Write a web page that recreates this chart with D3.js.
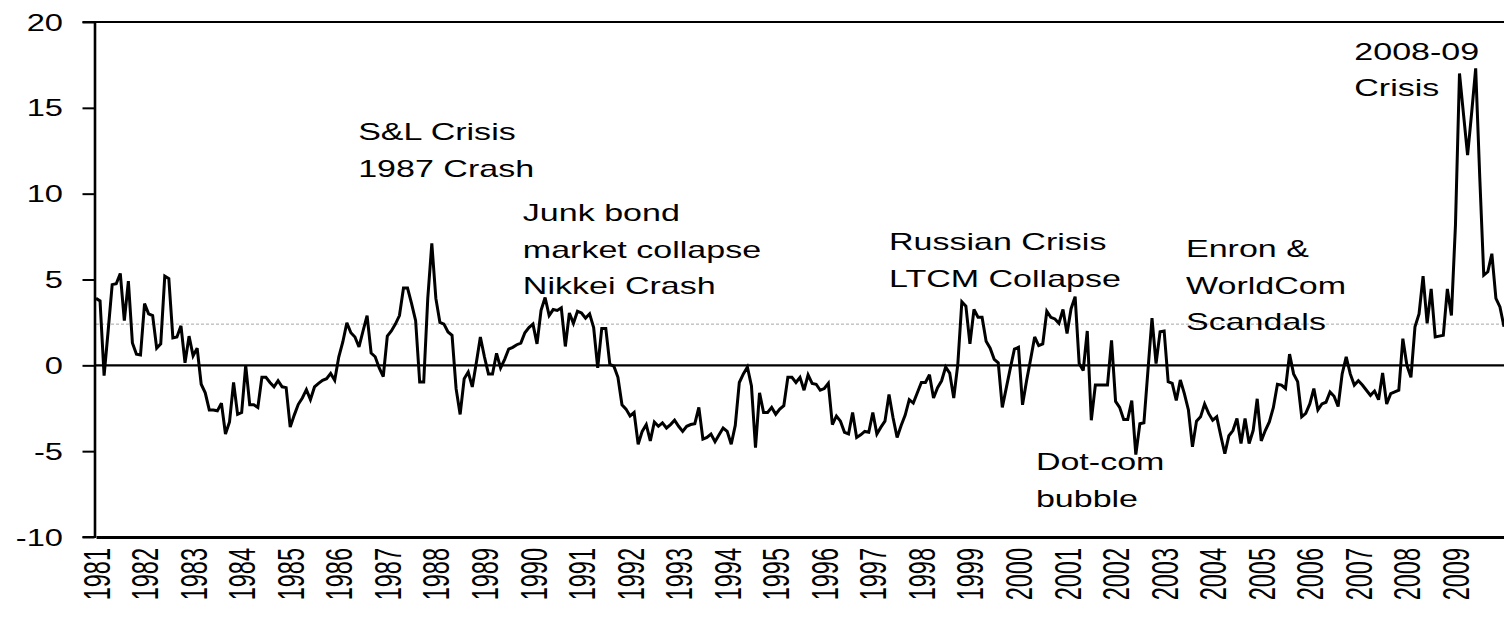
<!DOCTYPE html>
<html>
<head>
<meta charset="utf-8">
<script src="https://cdn.jsdelivr.net/npm/d3@7"></script>
<style>
  html, body { margin: 0; padding: 0; background: #fff; }
  svg { display: block; }
  text { font-family: "Liberation Sans", Arial, sans-serif; fill: #000; }
</style>
</head>
<body>
<div id="chart"></div>
<script>
// year labels, one per January
const yearLabels = ["1981", "1982", "1983", "1984", "1985", "1986", "1987", "1988", "1989", "1990",
  "1991", "1992", "1993", "1994", "1995", "1996", "1997", "1998", "1999", "2000",
  "2001", "2002", "2003", "2004", "2005", "2006", "2007", "2008", "2009"];

const yTicks = [-10, -5, 0, 5, 10, 15, 20];
const refLevel = 2.4;

// monthly index, Jan 1981 .. Jan 2010 (one row per year)
const monthly = [
  3.9, 3.75, -0.6, 2.0, 4.7, 4.75, 5.35, 2.6, 4.9, 1.3, 0.65, 0.6,
  3.6, 3.0, 2.9, 1.0, 1.25, 5.2, 5.05, 1.6, 1.65, 2.3, 0.15, 1.7,
  0.55, 1.0, -1.1, -1.6, -2.6, -2.6, -2.65, -2.2, -4.0, -3.3, -1.0, -2.85,
  -2.75, 0.0, -2.3, -2.3, -2.45, -0.7, -0.7, -1.0, -1.25, -0.9, -1.25, -1.3,
  -3.6, -2.9, -2.27, -1.9, -1.42, -2.0, -1.26, -1.05, -0.87, -0.78, -0.47, -0.87,
  0.48, 1.36, 2.47, 1.9, 1.65, 1.07, 2.0, 2.9, 0.72, 0.5, -0.15, -0.65,
  1.7, 2.0, 2.4, 2.9, 4.5, 4.5, 3.6, 2.6, -0.97, -0.97, 3.9, 7.1,
  3.9, 2.5, 2.4, 1.94, 1.75, -1.36, -2.86, -0.78, -0.39, -1.26, 0.15, 1.65,
  0.5, -0.5, -0.5, 0.7, -0.15, 0.35, 0.95, 1.05, 1.2, 1.3, 1.9, 2.2,
  2.4, 1.25, 3.2, 3.95, 2.9, 3.25, 3.2, 3.35, 1.1, 3.05, 2.45, 3.15,
  3.05, 2.75, 3.0, 2.2, -0.15, 2.15, 2.15, 0.05, -0.05, -0.7, -2.3, -2.55,
  -2.95, -2.75, -4.6, -3.85, -3.45, -4.4, -3.3, -3.55, -3.35, -3.65, -3.45, -3.2,
  -3.55, -3.85, -3.55, -3.45, -3.4, -2.45, -4.3, -4.2, -4.0, -4.45, -4.05, -3.65,
  -3.85, -4.6, -3.5, -1.0, -0.5, -0.1, -1.2, -4.8, -1.6, -2.75, -2.75, -2.45,
  -2.85, -2.55, -2.35, -0.7, -0.7, -1.0, -0.7, -1.45, -0.55, -1.05, -1.1, -1.45,
  -1.35, -1.05, -3.45, -2.95, -3.25, -3.9, -4.0, -2.75, -4.2, -4.05, -3.85, -3.9,
  -2.75, -4.0, -3.6, -3.25, -1.7, -3.05, -4.2, -3.5, -2.9, -2.0, -2.2, -1.6,
  -1.0, -1.0, -0.55, -1.9, -1.3, -0.9, -0.1, -0.45, -1.9, 0.05, 3.7, 3.45,
  1.25, 3.25, 2.8, 2.8, 1.4, 1.0, 0.35, 0.15, -2.45, -1.3, -0.15, 0.95,
  1.05, -2.3, -0.9, 0.35, 1.65, 1.15, 1.25, 3.15, 2.8, 2.7, 2.45, 3.25,
  1.85, 3.3, 4.0, 0.1, -0.3, 2.0, -3.2, -1.15, -1.15, -1.15, -1.15, 1.45,
  -2.1, -2.45, -3.15, -3.15, -2.05, -5.2, -3.4, -3.35, -0.3, 2.75, 0.1, 1.95,
  2.0, -0.95, -1.05, -2.05, -0.85, -1.65, -2.6, -4.75, -3.25, -3.0, -2.25, -2.8,
  -3.2, -3.0, -4.1, -5.15, -4.1, -3.8, -3.1, -4.55, -3.1, -4.55, -3.8, -1.95,
  -4.4, -3.8, -3.3, -2.45, -1.1, -1.15, -1.35, 0.65, -0.5, -0.95, -3.0, -2.8,
  -2.25, -1.35, -2.6, -2.25, -2.15, -1.55, -1.8, -2.4, -0.5, 0.5, -0.5, -1.15,
  -0.9, -1.15, -1.45, -1.75, -1.5, -2.0, -0.45, -2.25, -1.65, -1.55, -1.45, 1.55,
  0.0, -0.7, 2.25, 3.0, 5.2, 2.45, 4.45, 1.65, 1.7, 1.75, 4.45, 2.9,
  8.15, 17.0, 14.6, 12.25, 14.7, 17.3, 11.0, 5.25, 5.45, 6.5, 3.9, 3.4,
  2.25
];

// event notes, anchored in data units (month index, value of first baseline)
const notes = [
  { lines: ["S&L Crisis", "1987 Crash"], month: 64.8, value: 13.1 },
  { lines: ["Junk bond", "market collapse", "Nikkei Crash"], month: 105.5, value: 8.4 },
  { lines: ["Russian Crisis", "LTCM Collapse"], month: 196, value: 6.7 },
  { lines: ["Dot-com", "bubble"], month: 232.3, value: -6.1 },
  { lines: ["Enron &", "WorldCom", "Scandals"], month: 269.4, value: 6.3 },
  { lines: ["2008-09", "Crisis"], month: 311, value: 17.8 }
];

const width = 1504;
const height = 620;
const plotLeft = 96;
const axisX = 94.5;

const svg = d3.select("#chart")
  .append("svg")
  .attr("width", width)
  .attr("height", height);

const x = d3.scaleLinear()
  .domain([0, monthly.length - 1])
  .range([plotLeft, width]);

const y = d3.scaleLinear()
  .domain([-10, 20])
  .range([537, 22]);

// top border of plot area
svg.append("line")
  .attr("x1", axisX - 12).attr("x2", width)
  .attr("y1", y(20)).attr("y2", y(20))
  .attr("stroke", "#000").attr("stroke-width", 2);

// reference level (dashed)
svg.append("line")
  .attr("x1", plotLeft).attr("x2", width)
  .attr("y1", y(refLevel)).attr("y2", y(refLevel))
  .attr("stroke", "#a6a6a6").attr("stroke-width", 1)
  .attr("stroke-dasharray", "3 2");

// zero line
svg.append("line")
  .attr("x1", axisX).attr("x2", width)
  .attr("y1", y(0)).attr("y2", y(0))
  .attr("stroke", "#000").attr("stroke-width", 2.2);

// the series
const line = d3.line()
  .x((d, i) => x(i))
  .y((d) => y(d));

svg.append("path")
  .datum(monthly)
  .attr("fill", "none")
  .attr("stroke", "#000")
  .attr("stroke-width", 3)
  .attr("stroke-linejoin", "miter")
  .attr("stroke-miterlimit", 3)
  .attr("d", line);

// y axis
const yAxis = d3.axisLeft(y).tickValues(yTicks).tickSize(12).tickSizeOuter(0).tickFormat("");
svg.append("g")
  .attr("transform", `translate(${axisX},0)`)
  .call(yAxis)
  .call((g) => g.select(".domain").attr("stroke", "#000").attr("stroke-width", 2.6))
  .call((g) => g.selectAll(".tick line").attr("stroke", "#000").attr("stroke-width", 2));

svg.append("g")
  .selectAll("text")
  .data(yTicks)
  .enter()
  .append("text")
  .attr("transform", (d) => `translate(63,${y(d)}) scale(1.36,1)`)
  .attr("text-anchor", "end")
  .attr("dy", "0.36em")
  .style("font-size", "24px")
  .text((d) => d);

// x axis line at the bottom of the plot
const xAxis = d3.axisBottom(x).tickValues([]).tickSizeOuter(0);
svg.append("g")
  .attr("transform", `translate(0,${y(-10)})`)
  .call(xAxis)
  .call((g) => g.select(".domain").attr("stroke", "#000").attr("stroke-width", 3));

svg.append("line")
  .attr("x1", axisX - 12).attr("x2", plotLeft)
  .attr("y1", y(-10)).attr("y2", y(-10))
  .attr("stroke", "#000").attr("stroke-width", 2);

// rotated year labels
svg.append("g")
  .selectAll("text")
  .data(yearLabels)
  .enter()
  .append("text")
  .attr("transform", (d, i) => `translate(${x(i * 12)},548) scale(1.6,1) rotate(-90)`)
  .attr("text-anchor", "end")
  .attr("dy", "0.36em")
  .style("font-size", "23.5px")
  .text((d) => d);

// event notes
const noteText = svg.append("g")
  .selectAll("text")
  .data(notes)
  .enter()
  .append("text")
  .attr("transform", (d) => `translate(${x(d.month)},${y(d.value)}) scale(1.48,1)`)
  .style("font-size", "23px");

noteText.selectAll("tspan")
  .data((d) => d.lines)
  .enter()
  .append("tspan")
  .attr("x", 0)
  .attr("dy", (d, i) => (i === 0 ? 0 : 36.5))
  .text((d) => d);
</script>
</body>
</html>
